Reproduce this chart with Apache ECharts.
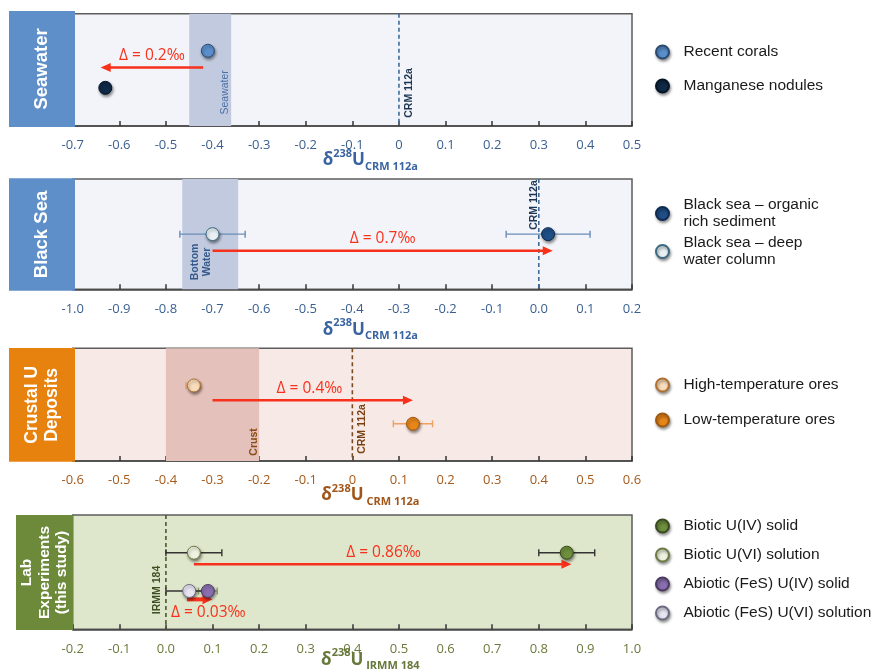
<!DOCTYPE html>
<html><head><meta charset="utf-8">
<script src="https://cdn.jsdelivr.net/npm/echarts@6/dist/echarts.min.js"></script>
<style>html,body{margin:0;padding:0;background:#fff}#c{width:871px;height:671px}</style>
</head><body><div id="c"></div>
<script>
// ---------------- data ----------------
const seaNames = ['Recent corals', 'Manganese nodules'];
const seaValues = [-0.41, -0.63];
const seaRows = [0.67, 0.34];
const seaBand = [-0.45, -0.36];
const seaShift = [-0.42, -0.64];
const seaTicks = ['-0.7','-0.6','-0.5','-0.4','-0.3','-0.2','-0.1','0','0.1','0.2','0.3','0.4','0.5'];

const blackNames = ['Black sea – organic\nrich sediment', 'Black sea – deep\nwater column'];
const blackValues = [0.02, -0.70];
const blackErrLow = [-0.07, -0.77];
const blackErrHigh = [0.11, -0.63];
const blackRows = [0.5, 0.5];
const blackBand = [-0.765, -0.645];
const blackShift = [-0.70, 0.03];
const blackTicks = ['-1.0','-0.9','-0.8','-0.7','-0.6','-0.5','-0.4','-0.3','-0.2','-0.1','0.0','0.1','0.2'];

const crustNames = ['High-temperature ores', 'Low-temperature ores'];
const crustValues = [-0.34, 0.13];
const crustErrLow = [-0.357, 0.088];
const crustErrHigh = [-0.325, 0.172];
const crustRows = [0.67, 0.33];
const crustBand = [-0.40, -0.20];
const crustShift = [-0.30, 0.13];
const crustTicks = ['-0.6','-0.5','-0.4','-0.3','-0.2','-0.1','0','0.1','0.2','0.3','0.4','0.5','0.6'];

const labNames = ['Biotic U(IV) solid', 'Biotic U(VI) solution', 'Abiotic (FeS) U(IV) solid', 'Abiotic (FeS) U(VI) solution'];
const labValues = [0.86, 0.06, 0.09, 0.05];
const labErrLow = [0.80, 0.00, 0.07, 0.00];
const labErrHigh = [0.92, 0.12, 0.11, 0.10];
const labRows = [0.67, 0.67, 0.335, 0.335];
const labShiftBiotic = [0.06, 0.87];
const labShiftAbiotic = [0.045, 0.10];
const labTicks = ['-0.2','-0.1','0.0','0.1','0.2','0.3','0.4','0.5','0.6','0.7','0.8','0.9','1.0'];

// ---------------- styles / layout ----------------
const RED = '#f8311c';
const panels = [
  {top: 13.7, height: 112.3, min: -0.7, max: 0.5, ticks: seaTicks, bg: '#f2f4f9', axisColor: '#3a5f8f', nameColor: '#3a64a0',
   name: '{d|δ}{s|238}{d|U}{b|CRM 112a}', nameGap: 22},
  {top: 179, height: 110.3, min: -1.0, max: 0.2, ticks: blackTicks, bg: '#f2f4f9', axisColor: '#3a5f8f', nameColor: '#3a64a0',
   name: '{d|δ}{s|238}{d|U}{b|CRM 112a}', nameGap: 28.5},
  {top: 348.3, height: 112.7, min: -0.6, max: 0.6, ticks: crustTicks, bg: '#f7e9e6', axisColor: '#a45a1c', nameColor: '#a0561a',
   name: '{d|δ}{s|238}{d|U}{b| CRM 112a}', nameGap: 22},
  {top: 515, height: 114.3, min: -0.2, max: 1.0, ticks: labTicks, bg: '#dee7cb', axisColor: '#6a7a3a', nameColor: '#66783a',
   name: '{d|δ}{s|238}{d|U}{b| IRMM 184}', nameGap: 18.5}
];

const pointStyles = [
  [{color: '#5b8fcc', borderColor: '#2a4a70'}, {color: '#0f2a48', borderColor: '#061525'}],
  [{color: '#1f4f86', borderColor: '#0f2a50'}, {color: '#e9f1f5', borderColor: '#3a6a80'}],
  [{color: '#f8dcbc', borderColor: '#b07030'}, {color: '#e8861a', borderColor: '#a05a10'}],
  [{color: '#6e8f3c', borderColor: '#3a4a20'}, {color: '#eef3e1', borderColor: '#6a7a40'},
   {color: '#8a6fb0', borderColor: '#4a3a60'}, {color: '#e7e5f2', borderColor: '#6a6a80'}]
];

const grids = panels.map(p => ({left: 72.7, width: 559.3, top: p.top, height: p.height, show: true,
  outerBoundsMode: 'none', containLabel: false,
  backgroundColor: p.bg, borderColor: '#5c5c5c', borderWidth: 1.5}));

const xAxes = panels.map((p, i) => ({
  type: 'value', gridIndex: i, min: p.min, max: p.max, interval: 0.1,
  axisLine: {show: true, onZero: false, lineStyle: {color: '#444', width: 1.5}},
  axisTick: {show: true, inside: true, length: 5, lineStyle: {color: '#333', width: 1.5}},
  splitLine: {show: false},
  axisLabel: {showMinLabel: true, showMaxLabel: true, margin: 13, color: p.axisColor, fontFamily: 'Open Sans', fontSize: 13,
    formatter: v => p.ticks[Math.round((v - p.min) / 0.1)]},
  name: p.name, nameLocation: 'middle', nameGap: p.nameGap, nameMoveOverlap: false,
  nameTextStyle: {padding: [0, 0, 0, 36], rich: {
    d: {fontFamily: 'Open Sans', fontSize: 17, fontWeight: 'bold', color: p.nameColor, lineHeight: 24},
    s: {fontFamily: 'Open Sans', fontSize: 11, fontWeight: 'bold', color: p.nameColor, lineHeight: 13, verticalAlign: 'top'},
    b: {fontFamily: 'Open Sans', fontSize: 11, fontWeight: 'bold', color: p.nameColor, lineHeight: 13, verticalAlign: 'bottom'}
  }}
}));
const yAxes = panels.map((p, i) => ({type: 'value', gridIndex: i, min: 0, max: 1, show: false}));

const series = [];

function bandSeries(i, band, fill) {
  series.push({type: 'custom', xAxisIndex: i, yAxisIndex: i, z: 1, silent: true, data: [[band[0], 0.5, band[1]]],
    renderItem: (params, api) => {
      const a = api.coord([api.value(0), 1]);
      const b = api.coord([api.value(2), 0]);
      return {type: 'rect', shape: {x: a[0], y: a[1], width: b[0] - a[0], height: b[1] - a[1]}, style: {fill: fill}};
    }});
}
function refSeries(i, color) {
  series.push({type: 'custom', xAxisIndex: i, yAxisIndex: i, z: 2, silent: true, data: [[0, 0.5]],
    renderItem: (params, api) => {
      const a = api.coord([api.value(0), 1]);
      const b = api.coord([api.value(0), 0]);
      return {type: 'line', shape: {x1: a[0], y1: a[1], x2: b[0], y2: b[1]}, style: {stroke: color, lineWidth: 1.6, lineDash: [4, 3]}};
    }});
}
function errSeries(i, lows, highs, rows, colors) {
  series.push({type: 'custom', xAxisIndex: i, yAxisIndex: i, z: 3, silent: true,
    data: lows.map((l, k) => [l, rows[k], highs[k]]),
    renderItem: (params, api) => {
      const a = api.coord([api.value(0), api.value(1)]);
      const b = api.coord([api.value(2), api.value(1)]);
      const c = colors[params.dataIndex], h = 3.5;
      const st = {stroke: c, lineWidth: 1.4};
      return {type: 'group', children: [
        {type: 'line', shape: {x1: a[0], y1: a[1], x2: b[0], y2: b[1]}, style: st},
        {type: 'line', shape: {x1: a[0], y1: a[1] - h, x2: a[0], y2: a[1] + h}, style: st},
        {type: 'line', shape: {x1: b[0], y1: b[1] - h, x2: b[0], y2: b[1] + h}, style: st}
      ]};
    }});
}
function arrowSeries(i, arrows, widths) {
  series.push({type: 'custom', xAxisIndex: i, yAxisIndex: i, z: 4, silent: true,
    data: arrows,
    renderItem: (params, api) => {
      const a = api.coord([api.value(0), api.value(1)]);
      const b = api.coord([api.value(2), api.value(1)]);
      const w = widths[params.dataIndex];
      const dir = b[0] > a[0] ? 1 : -1;
      const len = 10, hw = w > 3 ? 5 : 4.5;
      return {type: 'group', children: [
        {type: 'line', shape: {x1: a[0], y1: a[1], x2: b[0] - dir * len * 0.8, y2: b[1]}, style: {stroke: RED, lineWidth: w}},
        {type: 'polygon', shape: {points: [[b[0], b[1]], [b[0] - dir * len, b[1] - hw], [b[0] - dir * len, b[1] + hw]]}, style: {fill: RED}}
      ]};
    }});
}
function textSeries(i, notes) {
  series.push({type: 'custom', xAxisIndex: i, yAxisIndex: i, z: 6, silent: true,
    data: notes.map(n => [n.x, n.y]),
    renderItem: (params, api) => {
      const n = notes[params.dataIndex];
      const p = api.coord([api.value(0), api.value(1)]);
      return {type: 'text', x: p[0], y: p[1], rotation: n.rot ? Math.PI / 2 : 0,
        style: {text: n.text, fill: n.color, font: n.font, align: 'center', verticalAlign: 'middle', lineHeight: n.lh || undefined}};
    }});
}
function pointSeries(i, names, values, rows) {
  names.forEach((nm, k) => {
    const s = pointStyles[i][k];
    series.push({type: 'scatter', name: nm, xAxisIndex: i, yAxisIndex: i, z: 5, symbol: 'circle', symbolSize: 13,
      data: [[values[k], rows[k]]],
      itemStyle: {color: s.color, borderColor: s.borderColor, borderWidth: 1, opacity: 1,
        shadowBlur: 3, shadowColor: 'rgba(0,0,0,0.45)', shadowOffsetX: 1, shadowOffsetY: 2}});
  });
}

const deltaFont = '15.5px "Open Sans"';
const smallBold = 'bold 10.5px "Liberation Sans"';

// Panel 1 — Seawater
bandSeries(0, seaBand, '#c1cadf');
refSeries(0, '#3d6b9c');
arrowSeries(0, [[seaShift[0], 0.52, seaShift[1]]], [2.5]);
pointSeries(0, seaNames, seaValues, seaRows);
textSeries(0, [
  {x: -0.53, y: 0.63, text: 'Δ = 0.2‰', color: RED, font: deltaFont},
  {x: -0.373, y: 0.30, text: 'Seawater', color: '#4a70a8', font: '10.5px "Liberation Sans"', rot: true},
  {x: 0.022, y: 0.294, text: 'CRM 112a', color: '#1c3552', font: smallBold, rot: true}
]);

// Panel 2 — Black Sea
bandSeries(1, blackBand, '#c1cadf');
refSeries(1, '#3d6b9c');
errSeries(1, blackErrLow, blackErrHigh, blackRows, ['#6a8cb8', '#6a8cb8']);
arrowSeries(1, [[blackShift[0], 0.35, blackShift[1]]], [2.5]);
pointSeries(1, blackNames, blackValues, blackRows);
textSeries(1, [
  {x: -0.335, y: 0.456, text: 'Δ = 0.7‰', color: RED, font: deltaFont},
  {x: -0.724, y: 0.248, text: 'Bottom\nWater', color: '#35598a', font: smallBold, rot: true, lh: 12},
  {x: -0.009, y: 0.764, text: 'CRM 112a', color: '#1c3552', font: smallBold, rot: true}
]);

// Panel 3 — Crustal U deposits
bandSeries(2, crustBand, '#e4c1bb');
refSeries(2, '#7a4a22');
errSeries(2, crustErrLow, crustErrHigh, crustRows, ['#e8a060', '#f0a060']);
arrowSeries(2, [[crustShift[0], 0.54, crustShift[1]]], [2.5]);
pointSeries(2, crustNames, crustValues, crustRows);
textSeries(2, [
  {x: -0.092, y: 0.645, text: 'Δ = 0.4‰', color: RED, font: deltaFont},
  {x: -0.21, y: 0.169, text: 'Crust', color: '#8a4a12', font: smallBold, rot: true},
  {x: 0.02, y: 0.284, text: 'CRM 112a', color: '#7a4212', font: smallBold, rot: true}
]);

// Panel 4 — Lab experiments
refSeries(3, '#4a5a30');
errSeries(3, labErrLow, labErrHigh, labRows, ['#333333', '#333333', '#8e9c74', '#333333']);
arrowSeries(3, [[labShiftBiotic[0], 0.57, labShiftBiotic[1]], [labShiftAbiotic[0], 0.262, labShiftAbiotic[1]]], [2.5, 4]);
pointSeries(3, labNames, labValues, labRows);
textSeries(3, [
  {x: 0.467, y: 0.67, text: 'Δ = 0.86‰', color: RED, font: deltaFont},
  {x: 0.091, y: 0.149, text: 'Δ = 0.03‰', color: RED, font: deltaFont},
  {x: -0.018, y: 0.344, text: 'IRMM 184', color: '#3f4f25', font: smallBold, rot: true}
]);

// Legends
const legendBase = {orient: 'vertical', left: 655, padding: 0, icon: 'circle', itemWidth: 24, itemHeight: 13,
  textStyle: {fontFamily: 'Liberation Sans', fontSize: 15.5, color: '#1a1a1a', lineHeight: 17, padding: [0, 0, 0, 4]},
  itemStyle: {shadowBlur: 3, shadowColor: 'rgba(0,0,0,0.4)', shadowOffsetX: 1, shadowOffsetY: 2}};
const legends = [
  Object.assign({}, legendBase, {data: seaNames, top: 43.5, itemGap: 17}),
  Object.assign({}, legendBase, {data: blackNames, top: 196.5, itemGap: 4}),
  Object.assign({}, legendBase, {data: crustNames, top: 376.5, itemGap: 18}),
  Object.assign({}, legendBase, {data: labNames, top: 517.5, itemGap: 12})
];

// Panel title boxes
function titleBox(x, y, w, h, fill, text, size, lh) {
  return [
    {type: 'rect', shape: {x: x, y: y, width: w, height: h}, style: {fill: fill}, z: 100},
    {type: 'text', x: x + w / 2, y: y + h / 2, rotation: Math.PI / 2, z: 101,
      style: {text: text, fill: '#ffffff', font: 'bold ' + size + 'px "Liberation Sans"', align: 'center', verticalAlign: 'middle', lineHeight: lh}}
  ];
}
const graphic = [].concat(
  titleBox(9, 11, 66, 116, '#5f8fc8', 'Seawater', 18.5, 20),
  titleBox(9, 178.3, 66, 112.4, '#5f8fc8', 'Black Sea', 18.5, 20),
  titleBox(9, 348, 66, 113.7, '#e8820e', 'Crustal U\nDeposits', 17.5, 20),
  titleBox(16, 515, 57, 115, '#6c8a3a', 'Lab\nExperiments\n(this study)', 15.5, 17.7)
);

const chart = echarts.init(document.getElementById('c'));
chart.setOption({
  animation: false,
  backgroundColor: '#ffffff',
  grid: grids, xAxis: xAxes, yAxis: yAxes, series: series, legend: legends, graphic: graphic
});
</script></body></html>
